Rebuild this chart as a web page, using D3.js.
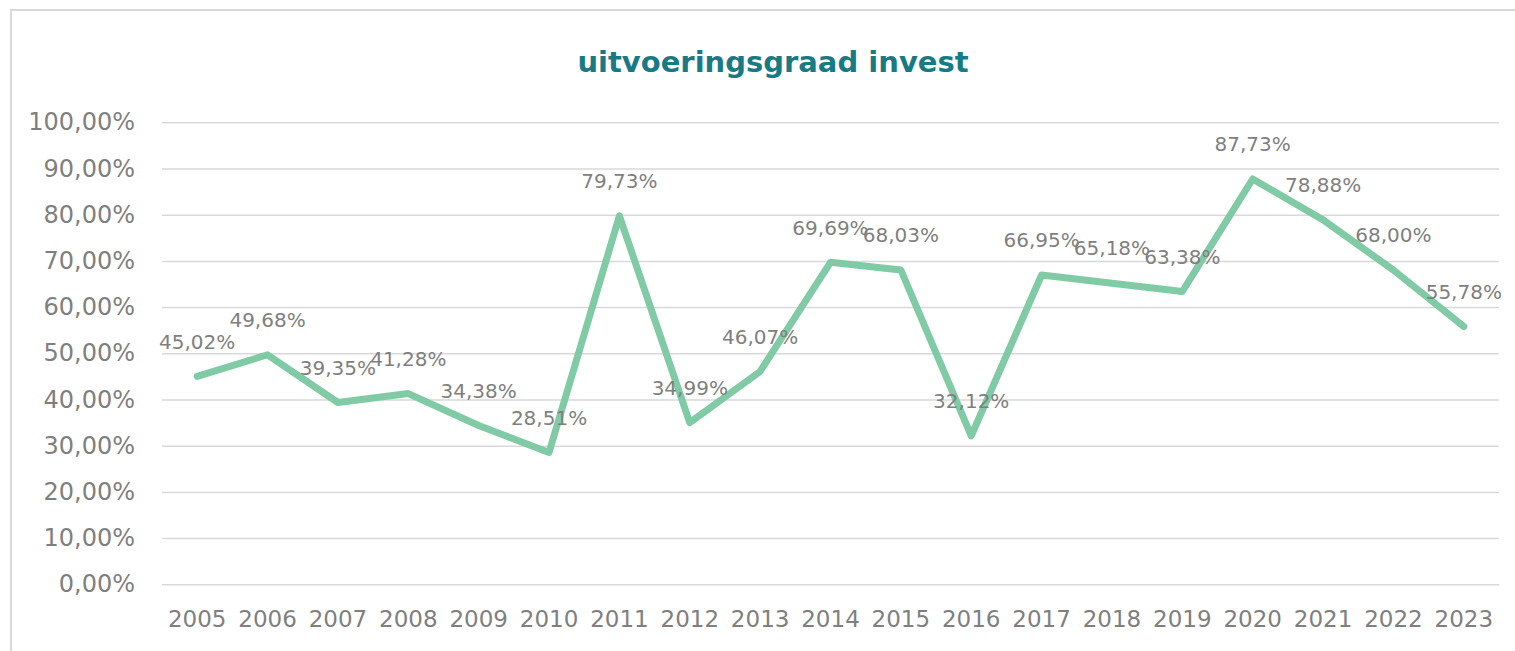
<!DOCTYPE html>
<html lang="nl">
<head>
  <meta charset="UTF-8">
  <title>uitvoeringsgraad invest</title>
  <script src="https://d3js.org/d3.v7.min.js"></script>
  <style>
    body {
      margin: 0;
      background: #ffffff;
      font-family: 'DejaVu Sans', sans-serif;
      overflow: hidden;
    }
    svg { display: block; }
  </style>
</head>
<body>
  <svg width="1515" height="651"></svg>
  <script>
    const years = ["2005", "2006", "2007", "2008", "2009", "2010", "2011", "2012", "2013", "2014",
                   "2015", "2016", "2017", "2018", "2019", "2020", "2021", "2022", "2023"];
    const values = [45.02, 49.68, 39.35, 41.28, 34.38, 28.51, 79.73, 34.99, 46.07, 69.69,
                    68.03, 32.12, 66.95, 65.18, 63.38, 87.73, 78.88, 68.00, 55.78];
    const yTicks = [0, 10, 20, 30, 40, 50, 60, 70, 80, 90, 100];

    const width = 1515, height = 651;
    const margin = { top: 122.3, right: 16, bottom: 66.7, left: 162 };

    const svg = d3.select("svg");

    // chart frame: only the left and top edges are inside the picture
    svg.append("path")
      .attr("d", "M11,651V10H1515")
      .attr("fill", "none")
      .attr("stroke", "#d9d9d9")
      .attr("stroke-width", 2);

    const g = svg.append("g").attr("transform", `translate(${margin.left},${margin.top})`);
    const innerWidth = width - margin.left - margin.right;
    const innerHeight = height - margin.top - margin.bottom;

    const x = d3.scaleBand().domain(years).range([0, innerWidth]).padding(0);
    const y = d3.scaleLinear().domain([0, 100]).range([innerHeight, 0]);

    const fmt = v => d3.format(".2f")(v).replace(".", ",") + "%";

    // title
    svg.append("text")
      .attr("x", 773)
      .attr("y", 72)
      .attr("text-anchor", "middle")
      .attr("font-size", "29px")
      .attr("font-weight", "bold")
      .attr("fill", "#177a84")
      .text("uitvoeringsgraad invest");

    // gridlines + y labels
    const yAxis = g.append("g")
      .call(d3.axisLeft(y).tickValues(yTicks).tickSize(-innerWidth).tickPadding(27).tickFormat(fmt));
    yAxis.select(".domain").remove();
    yAxis.selectAll(".tick line").attr("stroke", "#d9d9d9").attr("stroke-width", 1.5);
    yAxis.selectAll(".tick text")
      .attr("fill", "#7f7f7f")
      .attr("font-size", "24px")
      .attr("font-family", "'DejaVu Sans', sans-serif");

    // x labels
    const xAxis = g.append("g")
      .attr("transform", `translate(0,${innerHeight})`)
      .call(d3.axisBottom(x).tickSize(0).tickPadding(26));
    xAxis.select(".domain").remove();
    xAxis.selectAll(".tick text")
      .attr("fill", "#7f7f7f")
      .attr("font-size", "23px")
      .attr("font-family", "'DejaVu Sans', sans-serif");

    const data = years.map((yr, i) => ({ year: yr, value: values[i] }));
    const cx = d => x(d.year) + x.bandwidth() / 2;

    // line
    const line = d3.line().x(cx).y(d => y(d.value));
    g.append("path")
      .datum(data)
      .attr("d", line)
      .attr("fill", "none")
      .attr("stroke", "#80cba6")
      .attr("stroke-width", 7)
      .attr("stroke-linejoin", "round")
      .attr("stroke-linecap", "round");

    // data labels
    g.selectAll(".lbl")
      .data(data)
      .enter()
      .append("text")
      .attr("class", "lbl")
      .attr("x", cx)
      .attr("y", d => y(d.value) - 35)
      .attr("dy", "0.36em")
      .attr("text-anchor", "middle")
      .attr("font-size", "20px")
      .attr("fill", "#7f7f7f")
      .text(d => fmt(d.value));
  </script>
</body>
</html>
